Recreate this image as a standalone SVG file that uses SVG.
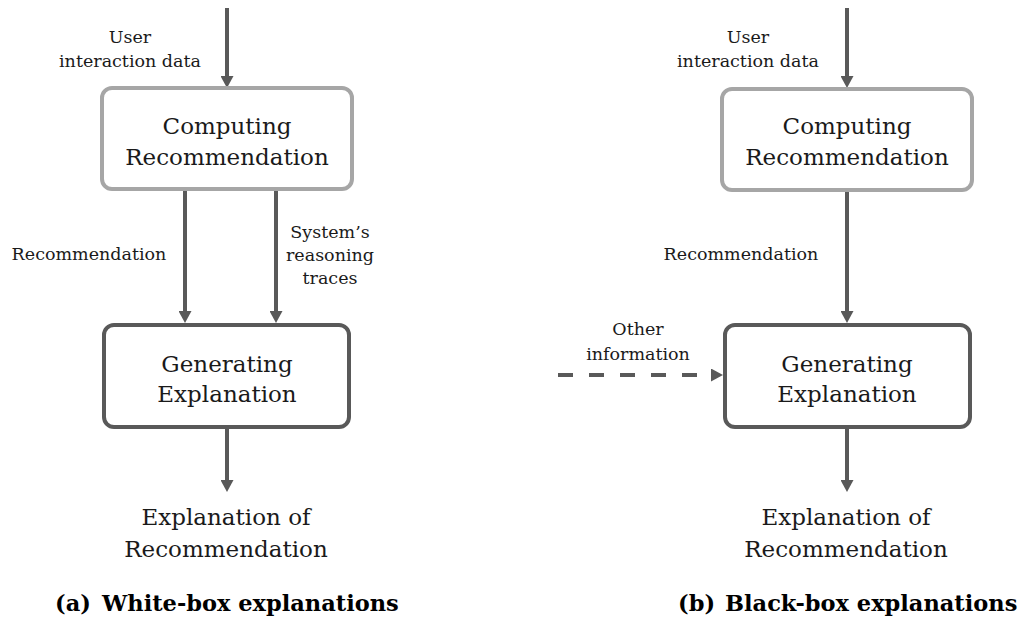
<svg xmlns="http://www.w3.org/2000/svg" width="1022" height="630" viewBox="0 0 1022 630">
  <style>
    .bg { fill: #ffffff; }
    .box-light { fill: #ffffff; stroke: #a6a6a6; stroke-width: 4; }
    .box-dark { fill: #ffffff; stroke: #595959; stroke-width: 4; }
    .edge { stroke: #595959; stroke-width: 4; fill: none; marker-end: url(#arrow); }
    .dashed { stroke-dasharray: 15 16; }
    .node-text { font-family: "DejaVu Serif", "Liberation Serif", serif; font-size: 23px; fill: #1a1a1a; text-anchor: middle; }
    .label { font-family: "DejaVu Serif", "Liberation Serif", serif; font-size: 17.5px; fill: #1a1a1a; text-anchor: middle; }
    .caption { font-family: "DejaVu Serif", "Liberation Serif", serif; font-size: 22.5px; font-weight: bold; fill: #000000; }
  </style>
  <defs>
    <marker id="arrow" markerUnits="userSpaceOnUse" viewBox="0 0 12 13" markerWidth="12" markerHeight="13" refX="2" refY="6.5" orient="auto">
      <path d="M0,0 L12,6.5 L0,13 Z" fill="#595959"/>
    </marker>
  </defs>
  <rect class="bg" x="0" y="0" width="1022" height="630"/>

  <g id="connectors">
    <!-- panel a -->
    <line class="edge" x1="227" y1="8" x2="227" y2="78"/>
    <line class="edge" x1="185" y1="190" x2="185" y2="313"/>
    <line class="edge" x1="276" y1="190" x2="276" y2="313"/>
    <line class="edge" x1="227" y1="427" x2="227" y2="482"/>
    <!-- panel b -->
    <line class="edge" x1="847" y1="8" x2="847" y2="78"/>
    <line class="edge" x1="847" y1="191" x2="847" y2="313"/>
    <line class="edge dashed" x1="558" y1="375" x2="713" y2="375"/>
    <line class="edge" x1="847" y1="427" x2="847" y2="482"/>
  </g>

  <g id="edge-labels">
    <text class="label" x="130" y="43">User</text>
    <text class="label" x="130" y="67">interaction data</text>
    <text class="label" x="89" y="260">Recommendation</text>
    <text class="label" x="330" y="238">System’s</text>
    <text class="label" x="330" y="261">reasoning</text>
    <text class="label" x="330" y="284">traces</text>

    <text class="label" x="748" y="43">User</text>
    <text class="label" x="748" y="67">interaction data</text>
    <text class="label" x="741" y="260">Recommendation</text>
    <text class="label" x="638" y="335">Other</text>
    <text class="label" x="638" y="360">information</text>
  </g>

  <g id="a-computing">
    <rect class="box-light" x="102" y="88" width="250" height="101" rx="10"/>
    <text class="node-text" x="227" y="134">Computing</text>
    <text class="node-text" x="227" y="165">Recommendation</text>
  </g>
  <g id="a-generating">
    <rect class="box-dark" x="104" y="325" width="245" height="102" rx="10"/>
    <text class="node-text" x="227" y="372">Generating</text>
    <text class="node-text" x="227" y="402">Explanation</text>
  </g>
  <g id="a-output">
    <text class="node-text" x="226" y="525">Explanation of</text>
    <text class="node-text" x="226" y="557">Recommendation</text>
  </g>

  <g id="b-computing">
    <rect class="box-light" x="722" y="89" width="250" height="101" rx="10"/>
    <text class="node-text" x="847" y="134">Computing</text>
    <text class="node-text" x="847" y="165">Recommendation</text>
  </g>
  <g id="b-generating">
    <rect class="box-dark" x="725" y="325" width="245" height="102" rx="10"/>
    <text class="node-text" x="847" y="372">Generating</text>
    <text class="node-text" x="847" y="402">Explanation</text>
  </g>
  <g id="b-output">
    <text class="node-text" x="846" y="525">Explanation of</text>
    <text class="node-text" x="846" y="557">Recommendation</text>
  </g>

  <g id="captions">
    <text class="caption" x="55" y="611">(a)</text>
    <text class="caption" x="102" y="611">White-box explanations</text>
    <text class="caption" x="678" y="611">(b)</text>
    <text class="caption" x="725" y="611">Black-box explanations</text>
  </g>
</svg>
